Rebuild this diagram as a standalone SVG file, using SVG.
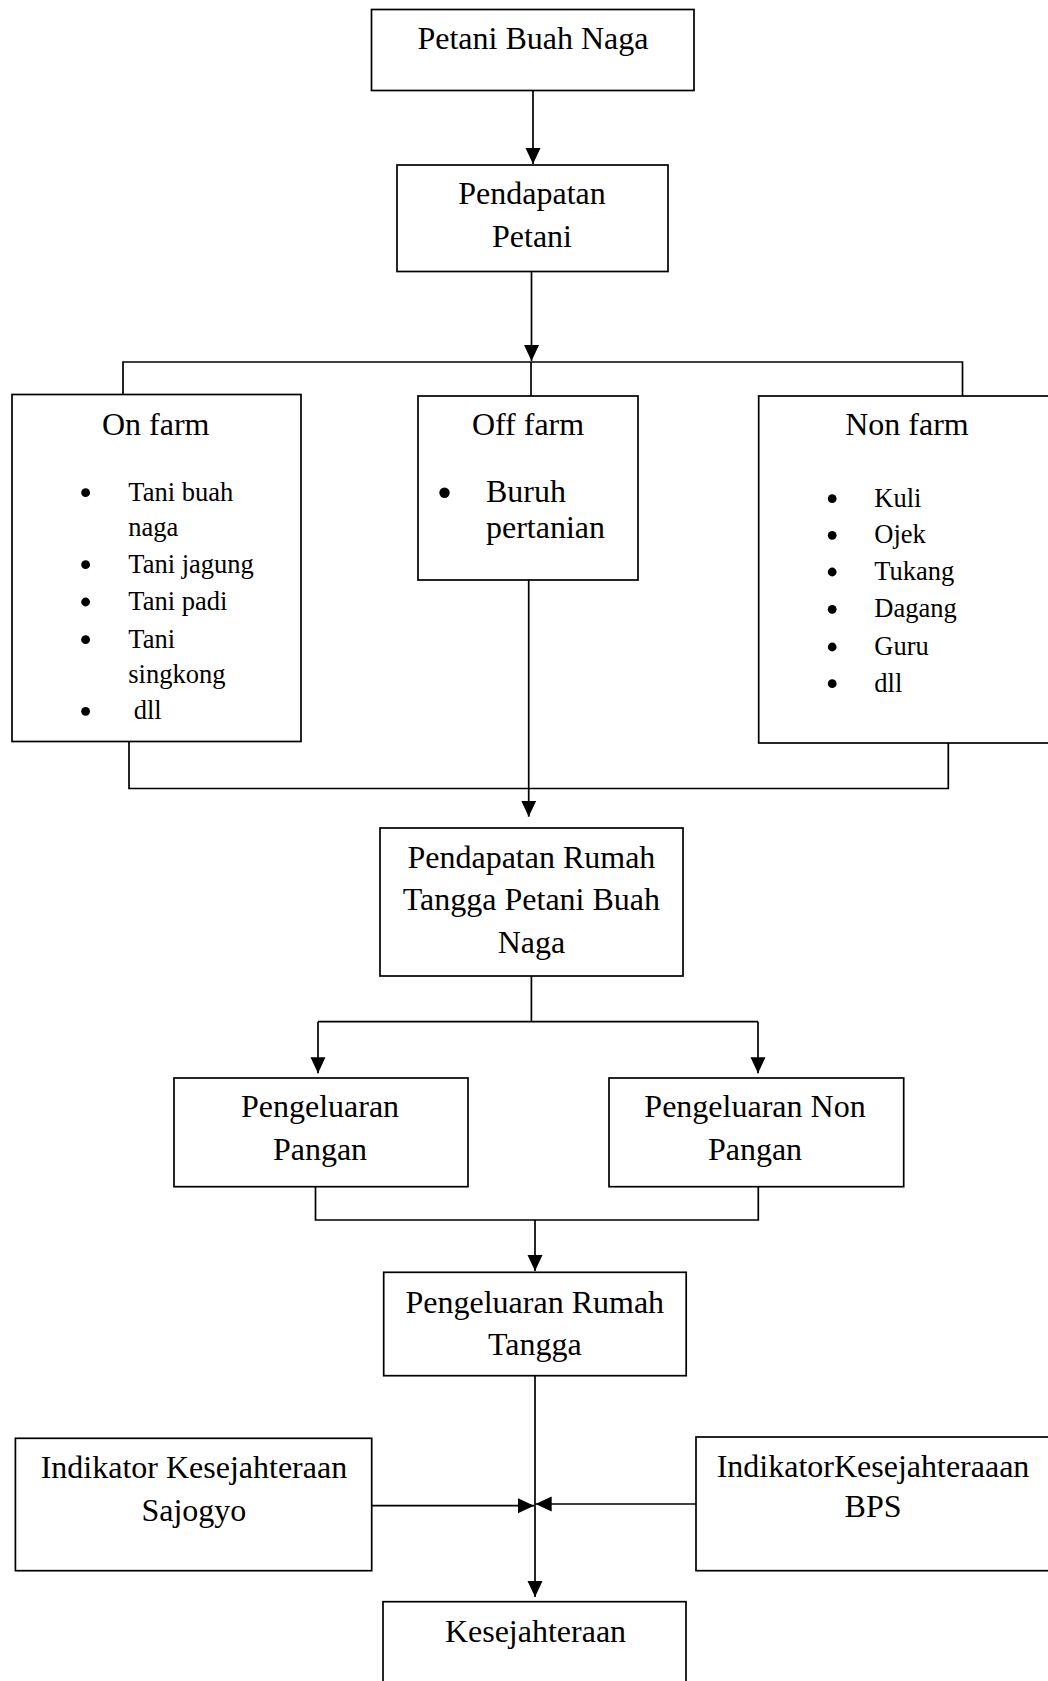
<svg xmlns="http://www.w3.org/2000/svg" width="1048" height="1681" viewBox="0 0 1048 1681">
<style>
.box{fill:#fff;stroke:#000;stroke-width:1.7}
.ln{fill:none;stroke:#000;stroke-width:1.7}
.t{font-family:"Liberation Serif","Times New Roman",serif;font-size:32px;fill:#000;text-anchor:middle}
.li{font-family:"Liberation Serif","Times New Roman",serif;font-size:26.5px;fill:#000}
.dot{fill:#000}
</style>
<defs>
<marker id="ah" markerUnits="userSpaceOnUse" markerWidth="16" markerHeight="16" refX="16" refY="7.5" orient="auto">
<path d="M0,0 L16,7.5 L0,15 z" fill="#000"/>
</marker>
</defs>
<rect width="1048" height="1681" fill="#fff"/>
<g id="connectors">
<line class="ln" x1="533" y1="90.7" x2="533" y2="164" marker-end="url(#ah)"/>
<line class="ln" x1="531.5" y1="271.7" x2="531.5" y2="361" marker-end="url(#ah)"/>
<polyline class="ln" points="123,395 123,362 962.5,362 962.5,396"/>
<line class="ln" x1="531" y1="362" x2="531" y2="396"/>
<polyline class="ln" points="129,742 129,788.5 948.3,788.5 948.3,743"/>
<line class="ln" x1="528.7" y1="580" x2="528.7" y2="816.7" marker-end="url(#ah)"/>
<line class="ln" x1="531.4" y1="975.7" x2="531.4" y2="1021.7"/>
<line class="ln" x1="318" y1="1021.7" x2="758" y2="1021.7"/>
<line class="ln" x1="318" y1="1021.7" x2="318" y2="1073.3" marker-end="url(#ah)"/>
<line class="ln" x1="758" y1="1021.7" x2="758" y2="1073.3" marker-end="url(#ah)"/>
<polyline class="ln" points="315.5,1186.7 315.5,1220 758.3,1220 758.3,1186.7"/>
<line class="ln" x1="535" y1="1220" x2="535" y2="1271" marker-end="url(#ah)"/>
<line class="ln" x1="535" y1="1375.7" x2="535" y2="1597" marker-end="url(#ah)"/>
<line class="ln" x1="371.7" y1="1505.7" x2="534" y2="1505.7" marker-end="url(#ah)"/>
<line class="ln" x1="696" y1="1504" x2="535.7" y2="1504" marker-end="url(#ah)"/>
</g>
<g id="petani-buah-naga">
<rect class="box" x="371.5" y="9.5" width="322.5" height="81"/>
<text class="t" x="533" y="49.3">Petani Buah Naga</text>
</g>
<g id="pendapatan-petani">
<rect class="box" x="397" y="165" width="271" height="106.5"/>
<text class="t" x="532" y="204">Pendapatan</text>
<text class="t" x="532" y="246.7">Petani</text>
</g>
<g id="on-farm">
<rect class="box" x="12" y="394.5" width="289" height="347"/>
<text class="t" x="155.7" y="435">On farm</text>
<circle class="dot" cx="85.6" cy="492.7" r="4.4"/>
<text class="li" x="128.3" y="500.7">Tani buah</text>
<text class="li" x="128.3" y="535.7">naga</text>
<circle class="dot" cx="85.6" cy="564.7" r="4.4"/>
<text class="li" x="128.3" y="572.7">Tani jagung</text>
<circle class="dot" cx="85.6" cy="602" r="4.4"/>
<text class="li" x="128.3" y="610">Tani padi</text>
<circle class="dot" cx="85.6" cy="639.7" r="4.4"/>
<text class="li" x="128.3" y="647.7">Tani</text>
<text class="li" x="128.3" y="683.3">singkong</text>
<circle class="dot" cx="85.6" cy="711.3" r="4.4"/>
<text class="li" x="133.7" y="719.3">dll</text>
</g>
<g id="off-farm">
<rect class="box" x="418" y="396" width="220" height="184"/>
<text class="t" x="528" y="435">Off farm</text>
<circle class="dot" cx="444.5" cy="492.7" r="5.2"/>
<text class="t" x="486" y="501.7" style="text-anchor:start">Buruh</text>
<text class="t" x="486" y="538.3" style="text-anchor:start">pertanian</text>
</g>
<g id="non-farm">
<rect class="box" x="758.7" y="396" width="300" height="347"/>
<text class="t" x="907" y="435">Non farm</text>
<circle class="dot" cx="832.2" cy="498.7" r="4.4"/>
<text class="li" x="874.3" y="506.7">Kuli</text>
<circle class="dot" cx="832.2" cy="535.3" r="4.4"/>
<text class="li" x="874.3" y="543.3">Ojek</text>
<circle class="dot" cx="832.2" cy="572" r="4.4"/>
<text class="li" x="874.3" y="580">Tukang</text>
<circle class="dot" cx="832.2" cy="609.3" r="4.4"/>
<text class="li" x="874.3" y="617.3">Dagang</text>
<circle class="dot" cx="832.2" cy="647" r="4.4"/>
<text class="li" x="874.3" y="655">Guru</text>
<circle class="dot" cx="832.2" cy="683.7" r="4.4"/>
<text class="li" x="874.3" y="691.7">dll</text>
</g>
<g id="pendapatan-rumah-tangga">
<rect class="box" x="380" y="828" width="303" height="148"/>
<text class="t" x="531.4" y="867.7">Pendapatan Rumah</text>
<text class="t" x="531.4" y="910">Tangga Petani Buah</text>
<text class="t" x="531.4" y="952.7">Naga</text>
</g>
<g id="pengeluaran-pangan">
<rect class="box" x="174" y="1078" width="294" height="108.7"/>
<text class="t" x="320" y="1116.7">Pengeluaran</text>
<text class="t" x="320" y="1160">Pangan</text>
</g>
<g id="pengeluaran-non-pangan">
<rect class="box" x="609" y="1078" width="294.7" height="108.7"/>
<text class="t" x="755" y="1116.7">Pengeluaran Non</text>
<text class="t" x="755" y="1160">Pangan</text>
</g>
<g id="pengeluaran-rumah-tangga">
<rect class="box" x="383.7" y="1272.3" width="302.5" height="103.4"/>
<text class="t" x="534.8" y="1313.3">Pengeluaran Rumah</text>
<text class="t" x="534.8" y="1355">Tangga</text>
</g>
<g id="indikator-sajogyo">
<rect class="box" x="15.4" y="1438.3" width="356.3" height="132.4"/>
<text class="t" x="193.9" y="1478.3">Indikator Kesejahteraan</text>
<text class="t" x="193.9" y="1520.7">Sajogyo</text>
</g>
<g id="indikator-bps">
<rect class="box" x="696" y="1437" width="360" height="133.7"/>
<text class="t" x="873" y="1476.7">IndikatorKesejahteraaan</text>
<text class="t" x="873" y="1517.3">BPS</text>
</g>
<g id="kesejahteraan">
<rect class="box" x="383" y="1601.7" width="303" height="100"/>
<text class="t" x="535.5" y="1641.7">Kesejahteraan</text>
</g>
</svg>
